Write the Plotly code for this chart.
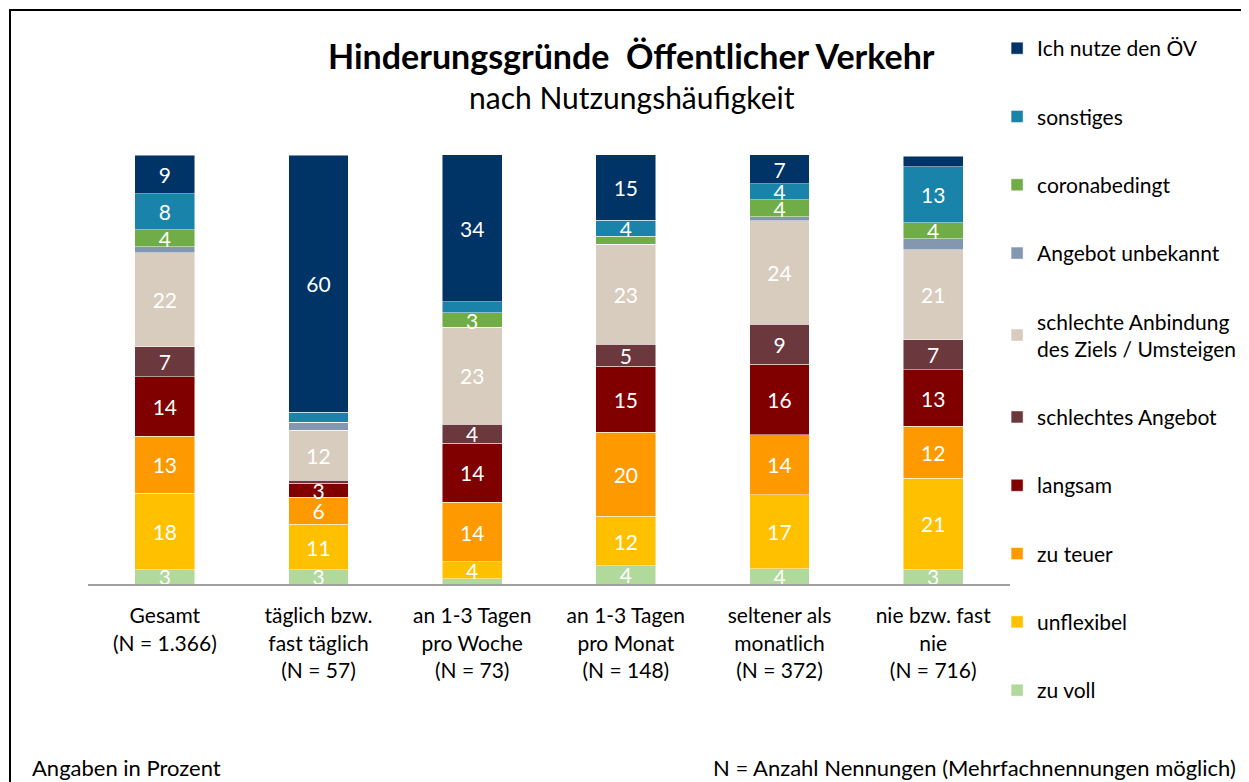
import plotly.graph_objects as go

categories = [
    "Gesamt<br>(N = 1.366)",
    "täglich bzw.<br>fast täglich<br>(N = 57)",
    "an 1-3 Tagen<br>pro Woche<br>(N = 73)",
    "an 1-3 Tagen<br>pro Monat<br>(N = 148)",
    "seltener als<br>monatlich<br>(N = 372)",
    "nie bzw. fast<br>nie<br>(N = 716)",
]

zu_voll = [3.3, 3.3, 1.2, 4.2, 3.6, 3.3]
unflexibel = [17.9, 10.6, 4.0, 11.6, 17.2, 21.4]
zu_teuer = [13.3, 6.3, 13.8, 19.6, 14.0, 12.1]
langsam = [13.8, 3.3, 13.8, 15.4, 16.4, 13.1]
schlechtes_angebot = [7.0, 0.7, 4.4, 5.1, 9.3, 7.0]
schlechte_anbindung = [21.9, 11.6, 22.6, 23.3, 24.2, 21.0]
angebot_unbekannt = [1.4, 1.9, 0.0, 0.0, 0.9, 2.6]
coronabedingt = [4.0, 0.0, 3.4, 1.9, 4.0, 3.7]
sonstiges = [8.4, 2.3, 2.6, 3.7, 3.7, 13.1]
ich_nutze_oev = [9.0, 60.0, 34.3, 15.4, 6.8, 2.4]

series_names = [
    "zu voll", "unflexibel", "zu teuer", "langsam", "schlechtes Angebot",
    "schlechte Anbindung<br>des Ziels / Umsteigen", "Angebot unbekannt",
    "coronabedingt", "sonstiges", "Ich nutze den ÖV",
]
series_values = [
    zu_voll, unflexibel, zu_teuer, langsam, schlechtes_angebot,
    schlechte_anbindung, angebot_unbekannt, coronabedingt, sonstiges, ich_nutze_oev,
]
series_colors = [
    "#B0D99B", "#FFC000", "#FF9900", "#800000", "#6B393D",
    "#D8CCBF", "#8497B0", "#70AD47", "#1A83A9", "#003366",
]

FONT = "Lato"

fig = go.Figure()
n = len(series_names)
for i, (name, vals, col) in enumerate(zip(series_names, series_values, series_colors)):
    labels = [f"{v:.0f}" if v >= 2.95 else "" for v in vals]
    fig.add_trace(go.Bar(
        x=categories, y=vals, name=name, legendgroup=name,
        legendrank=100 + (n - i) * 10,
        marker=dict(color=col, line=dict(color="rgba(255,255,255,0.6)", width=0.8)),
        text=labels, textposition="inside", insidetextanchor="middle",
        textangle=0, textfont=dict(color="white", size=21, family=FONT),
        hoverinfo="x+y+name",
    ))

fig.update_layout(
    width=1241, height=774,
    barmode="stack", bargap=0.61,
    paper_bgcolor="white", plot_bgcolor="white",
    margin=dict(l=80, r=239, t=147, b=198, autoexpand=False),
    font=dict(family=FONT, color="black"),
    uniformtext=dict(minsize=21, mode="show"),
    showlegend=True,
    legend=dict(
        x=0.986, xanchor="left", y=1.296, yanchor="top",
        traceorder="grouped", tracegroupgap=38, maxheight=760,
        font=dict(size=21, family=FONT, color="black"),
        bgcolor="rgba(0,0,0,0)",
    ),
    xaxis=dict(
        showline=True, linecolor="#A0A0A0", linewidth=2,
        showgrid=False, ticks="", ticklabelstandoff=12,
        tickfont=dict(size=21, family=FONT, color="black"),
    ),
    yaxis=dict(range=[0, 100], visible=False, showgrid=False, fixedrange=True),
    annotations=[
        dict(text="<b>Hinderungsgründe  Öffentlicher Verkehr</b>", x=0.59, y=1.233,
             xref="paper", yref="paper", showarrow=False, xanchor="center", yanchor="middle",
             font=dict(size=34, family=FONT, color="black")),
        dict(text="nach Nutzungshäufigkeit", x=0.59, y=1.135,
             xref="paper", yref="paper", showarrow=False, xanchor="center", yanchor="middle",
             font=dict(size=30, family=FONT, color="black")),
        dict(text="Angaben in Prozent", x=-0.063, y=-0.427,
             xref="paper", yref="paper", showarrow=False, xanchor="left", yanchor="middle",
             font=dict(size=22, family=FONT, color="black")),
        dict(text="N = Anzahl Nennungen (Mehrfachnennungen möglich)", x=1.247, y=-0.427,
             xref="paper", yref="paper", showarrow=False, xanchor="right", yanchor="middle",
             font=dict(size=22, family=FONT, color="black")),
    ],
    shapes=[
        dict(type="rect", xref="paper", yref="paper",
             x0=-0.0846, y0=-0.6, x1=1.4, y1=1.338,
             line=dict(color="black", width=2), fillcolor="rgba(0,0,0,0)", layer="below"),
    ],
)

fig.write_html("out.html")
